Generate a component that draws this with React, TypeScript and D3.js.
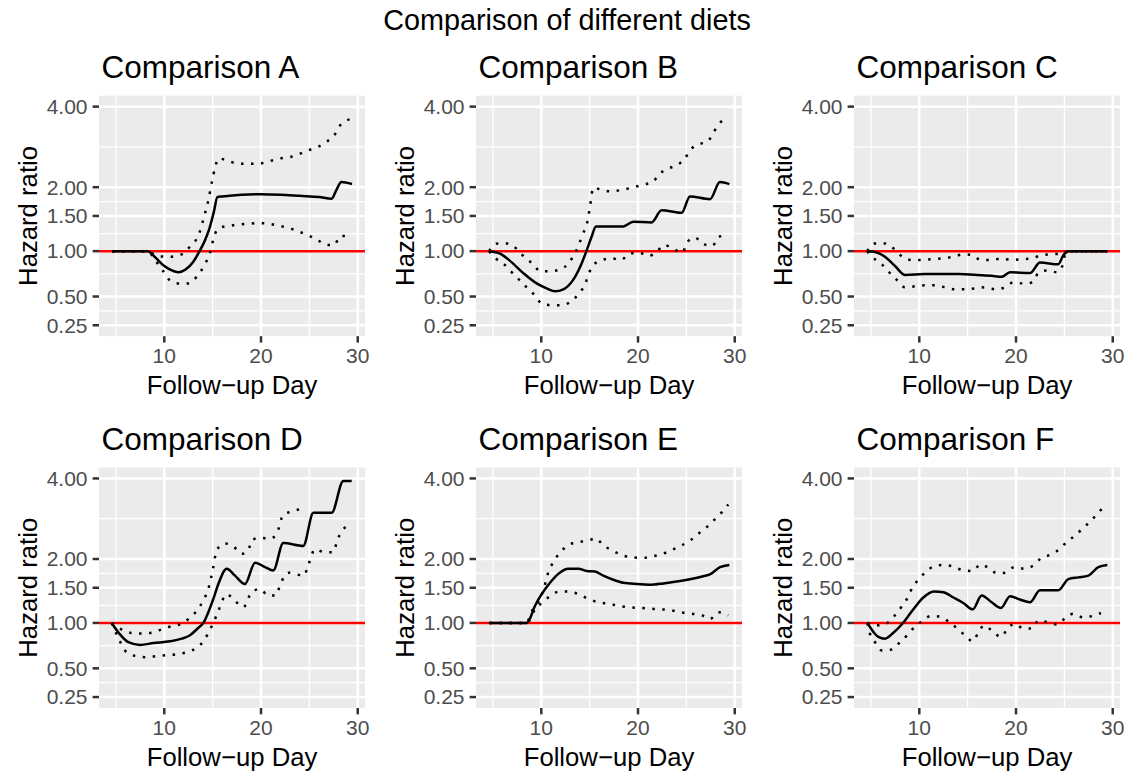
import React from "react";
import * as d3 from "d3";

// Hazard-ratio estimates over follow-up day, with lower/upper confidence bounds.
type Pt = [number, number];

const hrA: Pt[] = [[4.6,1],[8.3,1],[9,0.93],[10,0.82],[11,0.76],[11.5,0.75],[12.2,0.78],[13,0.87],[13.6,0.99],[14.2,1.14],[14.6,1.28],[15.1,1.55],[15.5,1.82],[16,1.83],[18,1.86],[20,1.87],[22,1.86],[24,1.84],[26,1.82],[27.3,1.79],[27.8,1.95],[28.3,2.1],[29.4,2.06]];
const loA: Pt[] = [[4.6,1],[8.3,1],[9.1,0.88],[9.9,0.76],[10.6,0.66],[11.45,0.63],[12.5,0.63],[13.35,0.7],[14.1,0.82],[14.7,0.97],[15.24,1.23],[15.76,1.32],[16.8,1.35],[18.7,1.38],[19.7,1.39],[20.75,1.38],[21.8,1.35],[23,1.31],[24,1.26],[24.9,1.21],[25.9,1.14],[26.8,1.08],[27.6,1.08],[28.16,1.2],[29.4,1.2]];
const hiA: Pt[] = [[4.6,1],[8.3,1],[9.2,0.94],[10.5,0.93],[11.8,0.96],[12.66,1.06],[13.59,1.23],[14.1,1.48],[14.55,1.76],[14.96,2.14],[15.24,2.39],[15.59,2.6],[16.8,2.53],[17.65,2.48],[19.7,2.48],[20.75,2.53],[21.96,2.6],[23,2.63],[24.03,2.71],[24.89,2.79],[25.92,2.88],[26.79,3.0],[27.65,3.2],[28.3,3.48],[29.4,3.63]];

const hrB: Pt[] = [[4.6,1],[5.73,0.97],[6.77,0.88],[8.14,0.74],[9.52,0.63],[10.55,0.58],[11.42,0.55],[12.28,0.57],[13.31,0.67],[14.17,0.85],[14.69,1.01],[15.2,1.19],[15.65,1.34],[18.48,1.34],[19.51,1.41],[21.4,1.4],[22.44,1.59],[24.51,1.55],[25.37,1.83],[27.44,1.78],[28.47,2.1],[29.44,2.06]];
const loB: Pt[] = [[4.6,1],[5.39,0.9],[6.25,0.83],[6.94,0.75],[7.7,0.67],[8.38,0.6],[9.25,0.52],[10.14,0.43],[11.18,0.42],[12.17,0.42],[13.14,0.46],[13.9,0.53],[14.52,0.62],[14.93,0.74],[15.38,0.83],[16.24,0.89],[17.27,0.91],[18.2,0.89],[19.17,0.97],[20.14,0.98],[21.07,0.94],[21.93,0.99],[22.69,1.08],[23.65,1.03],[24.58,0.98],[25.1,1.12],[25.89,1.18],[26.75,1.09],[27.72,1.07],[28.3,1.19],[29.3,1.21]];
const hiB: Pt[] = [[4.6,1],[5.49,1.1],[6.52,1.1],[7.45,1.03],[8.21,0.93],[9.07,0.85],[9.93,0.76],[10.9,0.76],[11.93,0.78],[12.8,0.85],[13.83,1.07],[14.24,1.21],[14.86,1.48],[15.03,1.65],[15.38,1.99],[16.24,1.95],[17.27,1.92],[18.31,1.95],[19.34,1.99],[20.55,2.05],[21.51,2.1],[22.2,2.26],[23.07,2.37],[24,2.45],[24.86,2.6],[25.37,2.79],[26.34,2.94],[27.2,3.01],[27.79,3.24],[28.4,3.49],[29.3,3.66]];

const hrC: Pt[] = [[4.6,1],[5.42,0.99],[6.45,0.93],[7.49,0.82],[8.52,0.72],[10.59,0.73],[14.04,0.73],[16.1,0.72],[17.48,0.71],[18.52,0.7],[19.38,0.75],[21.44,0.74],[22.48,0.86],[24.37,0.84],[24.89,0.95],[25.41,1],[29.44,1]];
const loC: Pt[] = [[4.6,1],[5.42,0.9],[6.21,0.83],[6.97,0.74],[7.73,0.66],[8.52,0.59],[9.56,0.6],[10.59,0.61],[11.62,0.61],[12.66,0.59],[13.76,0.57],[14.79,0.57],[15.83,0.58],[16.86,0.59],[17.9,0.57],[18.86,0.59],[19.72,0.64],[20.76,0.63],[21.68,0.64],[22.3,0.74],[23.17,0.77],[24.2,0.75],[24.79,0.82],[25.06,0.95],[25.58,1],[29.44,1]];
const hiC: Pt[] = [[4.6,1],[5.42,1.1],[6.45,1.1],[7.38,1.03],[8.25,0.93],[9.21,0.89],[10.25,0.89],[11.28,0.9],[12.31,0.91],[13.52,0.93],[14.55,0.96],[15.48,0.95],[16.38,0.89],[17.48,0.89],[18.52,0.91],[19.55,0.89],[20.58,0.9],[21.62,0.91],[22.65,0.95],[23.68,0.96],[24.72,0.97],[25.24,0.99],[25.58,1],[29.44,1]];

const hrD: Pt[] = [[4.56,1],[5.42,0.86],[6.28,0.77],[7.49,0.74],[8.87,0.76],[10.59,0.78],[11.8,0.81],[12.66,0.85],[13.52,0.94],[14.04,1],[14.55,1.14],[15.07,1.33],[15.59,1.56],[16.45,1.82],[17.31,1.7],[18.34,1.56],[19.38,1.93],[20.41,1.85],[21.27,1.79],[22.3,2.32],[24.37,2.26],[25.41,3.02],[27.3,3.02],[28.51,3.92],[29.37,3.92]];
const loD: Pt[] = [[4.56,1],[5.42,0.78],[6.11,0.66],[7.14,0.62],[8.18,0.61],[9.21,0.62],[10.24,0.63],[11.28,0.64],[12.31,0.66],[13.35,0.71],[14.1,0.79],[14.65,0.9],[15.07,1],[15.59,1.16],[16.45,1.4],[17.31,1.3],[18.17,1.21],[19.03,1.43],[19.89,1.48],[20.75,1.38],[21.55,1.38],[21.96,1.54],[22.82,1.75],[24.44,1.7],[24.89,1.89],[25.58,2.19],[26.61,2.13],[27.47,2.13],[27.89,2.38],[28.85,2.71]];
const hiD: Pt[] = [[4.56,1],[5.42,0.93],[6.45,0.88],[7.49,0.87],[8.69,0.88],[9.73,0.92],[10.76,0.96],[11.8,0.99],[12.66,1.07],[13.35,1.16],[14.04,1.31],[14.55,1.48],[15.07,1.85],[15.41,2.17],[16.27,2.31],[17.14,2.25],[18,2.1],[18.69,2.17],[19.03,2.38],[19.89,2.43],[20.92,2.41],[21.62,2.52],[22.3,2.97],[23.34,3.06],[24.37,3.15]];

const hrE: Pt[] = [[4.63,1],[8.49,1],[8.76,1.04],[9.35,1.23],[10.04,1.4],[10.9,1.58],[11.76,1.73],[12.8,1.82],[13.83,1.82],[14.69,1.78],[15.55,1.77],[16.41,1.7],[17.45,1.63],[18.48,1.58],[19.86,1.56],[21.24,1.55],[22.62,1.57],[24,1.6],[25.37,1.64],[26.75,1.69],[27.44,1.72],[28.47,1.85],[29.44,1.89]];
const loE: Pt[] = [[4.63,1],[8.49,1],[9.0,1.15],[9.87,1.25],[10.9,1.37],[11.83,1.44],[12.86,1.44],[13.83,1.4],[14.86,1.33],[15.9,1.28],[16.93,1.26],[17.96,1.23],[18.99,1.21],[20.2,1.2],[21.24,1.19],[22.27,1.18],[23.31,1.17],[24.41,1.14],[25.55,1.12],[26.58,1.1],[27.44,1.05],[28.3,1.14],[29.33,1.1]];
const hiE: Pt[] = [[4.63,1],[8.49,1],[9.18,1.14],[9.69,1.28],[10.21,1.46],[10.73,1.76],[11.24,1.94],[11.83,2.1],[12.62,2.25],[13.66,2.34],[14.69,2.36],[15.65,2.42],[16.41,2.27],[17.34,2.17],[18.38,2.07],[19.41,2.03],[20.48,2.02],[21.51,2.05],[22.55,2.1],[23.55,2.18],[24.51,2.27],[25.44,2.38],[26.23,2.52],[27.09,2.67],[27.85,2.84],[28.65,3.03],[29.33,3.24]];

const hrF: Pt[] = [[4.63,1],[5.25,0.89],[5.77,0.83],[6.45,0.81],[7.32,0.88],[8.18,0.98],[9.21,1.15],[10.42,1.35],[11.52,1.44],[12.48,1.43],[13.52,1.35],[14.55,1.27],[15.52,1.18],[16.45,1.38],[17.48,1.28],[18.45,1.2],[19.38,1.37],[20.41,1.32],[21.44,1.28],[22.48,1.46],[24.37,1.46],[25.41,1.64],[26.44,1.67],[27.47,1.7],[28.51,1.85],[29.44,1.89]];
const loF: Pt[] = [[4.63,1],[4.9,0.87],[5.42,0.77],[6.11,0.68],[7.14,0.69],[8.0,0.77],[8.76,0.85],[9.45,0.94],[10.25,1.02],[11.21,1.09],[12.21,1.08],[13.1,1.01],[13.93,0.93],[14.72,0.85],[15.52,0.78],[16.1,0.88],[16.69,0.97],[17.55,0.9],[18.45,0.83],[19.13,0.93],[19.82,0.99],[20.82,0.93],[21.69,0.93],[22.31,1.03],[23.27,1.01],[24.27,0.98],[25.06,1.06],[25.92,1.12],[26.96,1.07],[27.89,1.09],[28.78,1.13]];
const hiF: Pt[] = [[4.63,1],[5.6,0.97],[6.7,1.0],[7.49,1.1],[8.18,1.22],[8.76,1.34],[9.28,1.5],[9.9,1.63],[10.59,1.75],[11.45,1.86],[12.48,1.89],[13.52,1.86],[14.55,1.79],[15.52,1.78],[16.34,1.9],[17.2,1.83],[18.03,1.74],[18.86,1.75],[19.82,1.85],[20.86,1.82],[21.79,1.88],[22.55,2.01],[23.51,2.08],[24.48,2.19],[25.23,2.34],[26.1,2.48],[26.89,2.64],[27.65,2.8],[28.4,2.99],[29.13,3.2]];

const panelTitles = ["Comparison A", "Comparison B", "Comparison C", "Comparison D", "Comparison E", "Comparison F"];
const estimates = [hrA, hrB, hrC, hrD, hrE, hrF];
const lowers = [loA, loB, loC, loD, loE, loF];
const uppers = [hiA, hiB, hiC, hiD, hiE, hiF];

const yBreaks = [0.25, 0.5, 1, 1.5, 2, 4];
const yLabels = ["0.25", "0.50", "1.00", "1.50", "2.00", "4.00"];
const xBreaks = [10, 20, 30];
const xMinor = [5, 15, 25];
const dayLimits = [4.5, 29.5];
const hrLimits = [0.25, 4];
const referenceHR = 1;

const FONT = "'Liberation Sans', Arial, Helvetica, sans-serif";
const W = 1128;
const H = 776;
const colLeft = [99, 476, 854];
const rowTop = [95.7, 467.5];
const panelW = 266;
const panelH = 240.5;
const rowStep = 372;

// log1p-transformed y scale with ggplot-style 5% expansion
const tLo = Math.log1p(hrLimits[0]);
const tHi = Math.log1p(hrLimits[1]);
const tPad = (tHi - tLo) * 0.05;
const yT = d3.scaleLinear().domain([tLo - tPad, tHi + tPad]).range([panelH, 0]);
const y = (v: number) => yT(Math.log1p(v));
const xPad = (dayLimits[1] - dayLimits[0]) * 0.05;
const x = d3.scaleLinear().domain([dayLimits[0] - xPad, dayLimits[1] + xPad]).range([0, panelW]);

// minor breaks at transformed midpoints between major breaks
const tBreaks = yBreaks.map((b) => Math.log1p(b));
const yMinorT = d3.range(tBreaks.length - 1).map((i) => (tBreaks[i] + tBreaks[i + 1]) / 2);

const line = d3.line<Pt>().x((d) => x(d[0])).y((d) => y(d[1])).curve(d3.curveMonotoneX);

function Panel({ i }: { i: number }) {
  const col = i % 3;
  const row = Math.floor(i / 3);
  const left = colLeft[col];
  const top = rowTop[row];
  const rowOff = row * rowStep;
  return (
    <g>
      <text x={left + 2.5} y={78 + rowOff} fontSize={31.5} fill="#000" fontFamily={FONT}>
        {panelTitles[i]}
      </text>
      <g transform={`translate(${left},${top})`}>
        <rect width={panelW} height={panelH} fill="#EBEBEB" />
        {yMinorT.map((t, k) => (
          <line key={"ym" + k} x1={0} x2={panelW} y1={yT(t)} y2={yT(t)} stroke="#fff" strokeWidth={1.25} />
        ))}
        {xMinor.map((d, k) => (
          <line key={"xm" + k} x1={x(d)} x2={x(d)} y1={0} y2={panelH} stroke="#fff" strokeWidth={1.25} />
        ))}
        {yBreaks.map((b, k) => (
          <line key={"yM" + k} x1={0} x2={panelW} y1={y(b)} y2={y(b)} stroke="#fff" strokeWidth={2.5} />
        ))}
        {xBreaks.map((d, k) => (
          <line key={"xM" + k} x1={x(d)} x2={x(d)} y1={0} y2={panelH} stroke="#fff" strokeWidth={2.5} />
        ))}
        <line x1={0} x2={panelW} y1={y(referenceHR)} y2={y(referenceHR)} stroke="#FF0000" strokeWidth={2.5} />
        <path d={line(estimates[i]) || ""} fill="none" stroke="#000" strokeWidth={2.5} />
        <path d={line(lowers[i]) || ""} fill="none" stroke="#000" strokeWidth={2.5} strokeDasharray="2.5 7.5" />
        <path d={line(uppers[i]) || ""} fill="none" stroke="#000" strokeWidth={2.5} strokeDasharray="2.5 7.5" />
        {/* y axis */}
        {yBreaks.map((b, k) => (
          <g key={"yt" + k}>
            <line x1={-6.4} x2={0} y1={y(b)} y2={y(b)} stroke="#333333" strokeWidth={2.5} />
            <text x={-11.5} y={y(b)} dy="0.35em" textAnchor="end" fontSize={21} fill="#4D4D4D" fontFamily={FONT}>
              {yLabels[k]}
            </text>
          </g>
        ))}
        {/* x axis */}
        {xBreaks.map((d, k) => (
          <g key={"xt" + k}>
            <line x1={x(d)} x2={x(d)} y1={panelH} y2={panelH + 6.4} stroke="#333333" strokeWidth={2.5} />
            <text x={x(d)} y={panelH + 26.5} textAnchor="middle" fontSize={21} fill="#4D4D4D" fontFamily={FONT}>
              {d}
            </text>
          </g>
        ))}
        <text x={panelW / 2} y={panelH + 58} textAnchor="middle" fontSize={25.7} fill="#000" fontFamily={FONT}>
          Follow−up Day
        </text>
        <text
          transform={`translate(${-62},${panelH / 2}) rotate(-90)`}
          textAnchor="middle"
          fontSize={25.7}
          fill="#000"
          fontFamily={FONT}
        >
          Hazard ratio
        </text>
      </g>
    </g>
  );
}

export default function App() {
  return (
    <div style={{ position: "absolute", left: 0, top: 0 }}>
      <svg width={W} height={H} style={{ display: "block", background: "#fff" }}>
        <text x={W / 2 + 3} y={30} textAnchor="middle" fontSize={28.8} fill="#000" fontFamily={FONT}>
          Comparison of different diets
        </text>
        {panelTitles.map((_, i) => (
          <Panel key={i} i={i} />
        ))}
      </svg>
    </div>
  );
}
